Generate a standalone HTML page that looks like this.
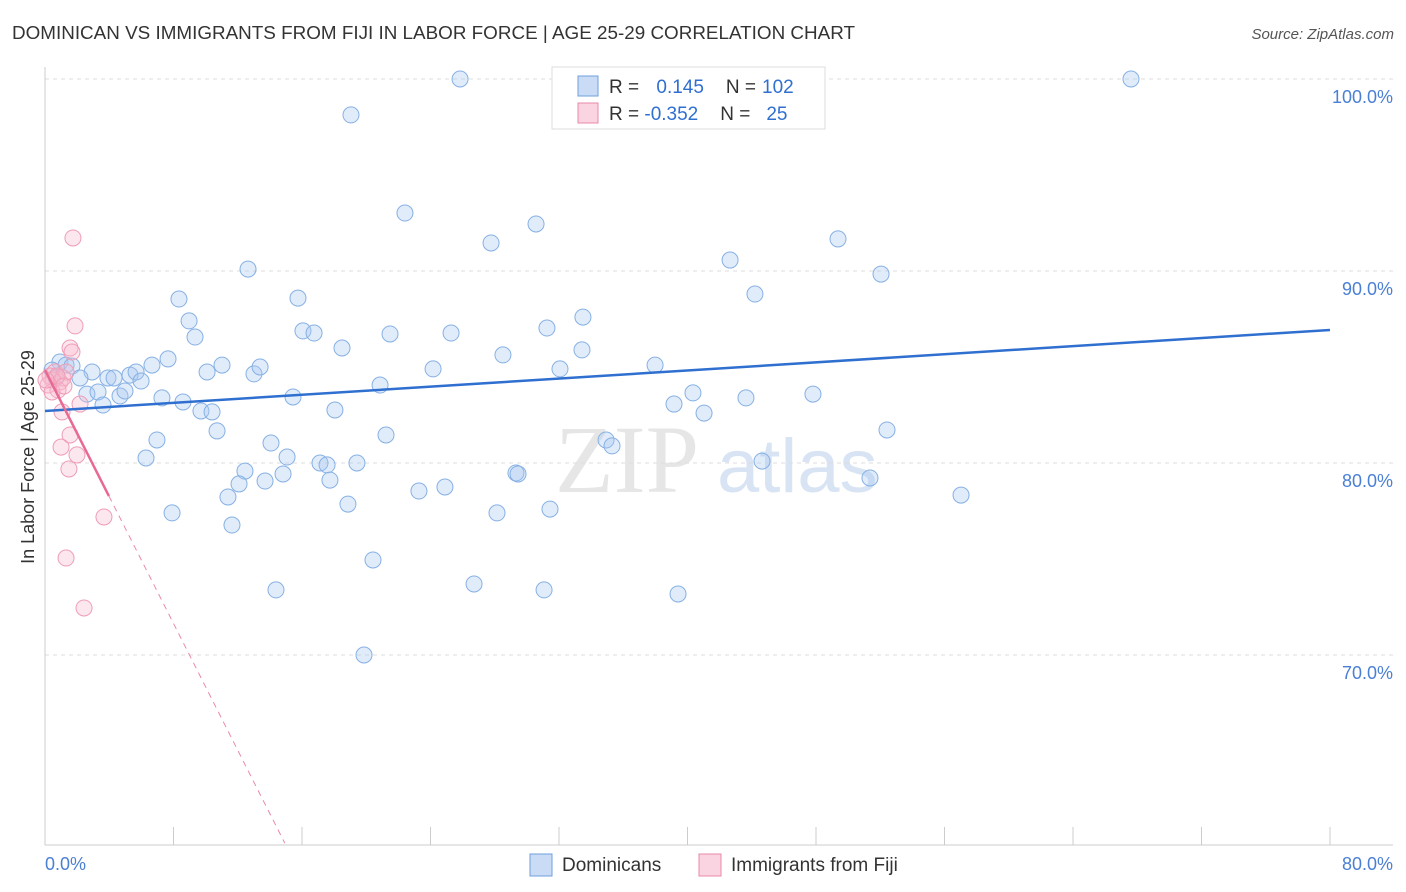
<!DOCTYPE html>
<html><head><meta charset="utf-8"><style>
body{margin:0;background:#fff;font-family:"Liberation Sans",sans-serif;}
svg{display:block}
</style></head><body>
<svg width="1406" height="892" viewBox="0 0 1406 892">
<text x="12" y="39" font-size="18" fill="#333" textLength="843" lengthAdjust="spacingAndGlyphs">DOMINICAN VS IMMIGRANTS FROM FIJI IN LABOR FORCE | AGE 25-29 CORRELATION CHART</text>
<text x="1394" y="39" font-size="15" fill="#555" font-style="italic" text-anchor="end">Source: ZipAtlas.com</text>
<g>
<text x="555" y="492" font-size="96" fill="#e6e6e6" font-family="Liberation Serif">ZIP</text>
<text x="717" y="492" font-size="76" fill="#d8e4f4">atlas</text>
</g>
<g id="grid"></g>
<g id="axes"></g>
<g id="marks"></g>
<text transform="translate(34,457) rotate(-90)" font-size="18" fill="#333" text-anchor="middle">In Labor Force | Age 25-29</text>
<text x="45" y="870" font-size="18" fill="#4a7fd4">0.0%</text>
<text x="1393" y="870" font-size="18" fill="#4a7fd4" text-anchor="end">80.0%</text>
<g>
<rect x="552" y="67" width="273" height="62" fill="#fff" stroke="#ddd"/>
<rect x="578" y="76" width="20" height="20" fill="rgba(150,185,235,0.5)" stroke="#6f9fdc"/>
<rect x="578" y="103" width="20" height="20" fill="rgba(245,170,195,0.5)" stroke="#e98aa8"/>
<text x="609" y="93" font-size="19" fill="#333">R = <tspan fill="#2f6fd0" dx="12">0.145</tspan><tspan dx="22" fill="#333">N =</tspan><tspan fill="#2f6fd0" dx="6">102</tspan></text>
<text x="609" y="120" font-size="19" fill="#333">R = <tspan fill="#2f6fd0">-0.352</tspan><tspan dx="22" fill="#333">N =</tspan><tspan fill="#2f6fd0" dx="16">25</tspan></text>
</g>
<g>
<rect x="530" y="854" width="22" height="22" fill="rgba(150,185,235,0.5)" stroke="#6f9fdc"/>
<text x="562" y="871" font-size="19" fill="#333">Dominicans</text>
<rect x="699" y="854" width="22" height="22" fill="rgba(245,170,195,0.5)" stroke="#e98aa8"/>
<text x="731" y="871" font-size="19" fill="#333">Immigrants from Fiji</text>
</g>
</svg>
<script>
const yTicks=[100,90,80,70];
const yTickLabels=["100.0%","90.0%","80.0%","70.0%"];
const xTicks=[0,8,16,24,32,40,48,56,64,72,80];
const blueX=[25.84,67.61,19.05,22.41,30.57,27.77,49.37,42.65,12.64,52.05,44.20,8.34,15.75,8.97,9.34,16.06,16.75,21.48,25.28,31.25,33.49,18.49,28.51,33.43,0.93,1.31,1.68,2.93,2.18,3.92,4.30,5.29,5.67,5.98,6.66,7.66,10.09,11.02,13.01,13.39,24.16,32.06,37.98,20.86,2.61,3.30,3.61,4.67,4.98,7.28,8.59,9.71,10.40,15.44,18.05,39.16,40.34,41.03,43.64,47.81,10.71,6.97,14.07,21.23,34.93,35.30,52.42,6.29,15.07,12.45,14.82,17.12,17.56,19.42,12.08,13.70,17.74,29.32,29.45,44.64,51.36,11.39,23.28,24.90,18.86,31.44,57.03,7.91,28.14,11.64,20.42,14.38,26.71,31.07,39.41,19.86,32.50,0.44,0.68];
const blueY=[100,100,98.13,93.02,92.45,91.46,91.67,90.57,90.10,89.84,88.80,88.54,88.59,87.40,86.56,86.88,86.77,86.72,86.77,87.03,87.60,85.99,85.63,85.89,85.26,85.10,85.05,84.74,84.43,84.43,84.43,84.58,84.74,84.27,85.10,85.42,84.74,85.10,84.64,85.00,84.90,84.90,85.10,84.06,83.59,83.70,83.02,83.49,83.75,83.39,83.18,82.71,82.66,83.44,82.76,83.07,83.65,82.60,83.39,83.59,81.67,81.20,81.04,81.46,81.20,80.89,81.72,80.26,80.31,79.58,79.43,80.00,79.90,80.00,78.91,79.06,79.11,79.48,79.43,80.10,79.22,78.23,78.54,78.75,77.86,77.60,78.33,77.40,77.40,76.77,74.95,73.39,73.70,73.39,73.18,70.00,100,84.84,84.43];
const pinkX=[1.74,1.87,1.56,1.68,0.62,0.31,0.50,0.93,0.19,1.12,1.31,0.81,2.18,1.06,1.56,1.00,1.99,1.49,3.67,1.31,2.43,0.44,0.75,1.18,0.06];
const pinkY=[91.72,87.14,85.99,85.78,84.74,84.53,84.32,84.22,84.06,84.43,84.74,83.80,83.07,82.66,81.46,80.83,80.42,79.69,77.19,75.05,72.45,83.70,84.53,84.01,84.32];
const blueTrend=[[0,82.71],[80,86.93]];
const pinkTrendSolid=[[0,84.84],[3.98,78.28]];
const pinkTrendDash=[[3.98,78.28],[14.93,60.2]];
const NS="http://www.w3.org/2000/svg";
const sx=v=>45+v*(1285/80);
const sy=v=>79+(100-v)*19.2;
function mk(tag,attrs,parent){const e=document.createElementNS(NS,tag);for(const k in attrs)e.setAttribute(k,attrs[k]);document.getElementById(parent).appendChild(e);return e;}
yTicks.forEach((t,i)=>{
 const l=mk('line',{x1:45,x2:1393,y1:sy(t),y2:sy(t),stroke:'#ddd','stroke-dasharray':'4,4'},'grid');
 
 
 const tx=mk('text',{x:1393,y:sy(t)+24,'font-size':18,fill:'#4a7fd4','text-anchor':'end'},'grid');
 tx.textContent=yTickLabels[i];
 
 
});
let a=mk('line',{x1:45,x2:45,y1:67,y2:845,stroke:'#ccc'},'axes');


a=mk('line',{x1:45,x2:1393,y1:845,y2:845,stroke:'#ccc'},'axes');


xTicks.forEach(t=>{
 const l=mk('line',{x1:sx(t),x2:sx(t),y1:827,y2:845,stroke:'#ccc'},'axes');
 
 
});
blueX.forEach((x,i)=>{
 const c=mk('circle',{cx:sx(x),cy:sy(blueY[i]),r:8,fill:'rgba(170,200,240,0.35)',stroke:'#86b0e4','stroke-width':1},'marks');
 
 
});
pinkX.forEach((x,i)=>{
 const c=mk('circle',{cx:sx(x),cy:sy(pinkY[i]),r:8,fill:'rgba(248,185,205,0.35)',stroke:'#ee9db6','stroke-width':1},'marks');
 
 
});
let t=mk('line',{x1:sx(blueTrend[0][0]),y1:sy(blueTrend[0][1]),x2:sx(blueTrend[1][0]),y2:sy(blueTrend[1][1]),stroke:'#2f6fd0','stroke-width':2.5},'marks');


t=mk('line',{x1:sx(pinkTrendSolid[0][0]),y1:sy(pinkTrendSolid[0][1]),x2:sx(pinkTrendSolid[1][0]),y2:sy(pinkTrendSolid[1][1]),stroke:'#e86a92','stroke-width':2.5},'marks');


t=mk('line',{x1:sx(pinkTrendDash[0][0]),y1:sy(pinkTrendDash[0][1]),x2:sx(pinkTrendDash[1][0]),y2:sy(pinkTrendDash[1][1]),stroke:'#e98aa8','stroke-width':1,'stroke-dasharray':'6,5'},'marks');


</script>
</body></html>
